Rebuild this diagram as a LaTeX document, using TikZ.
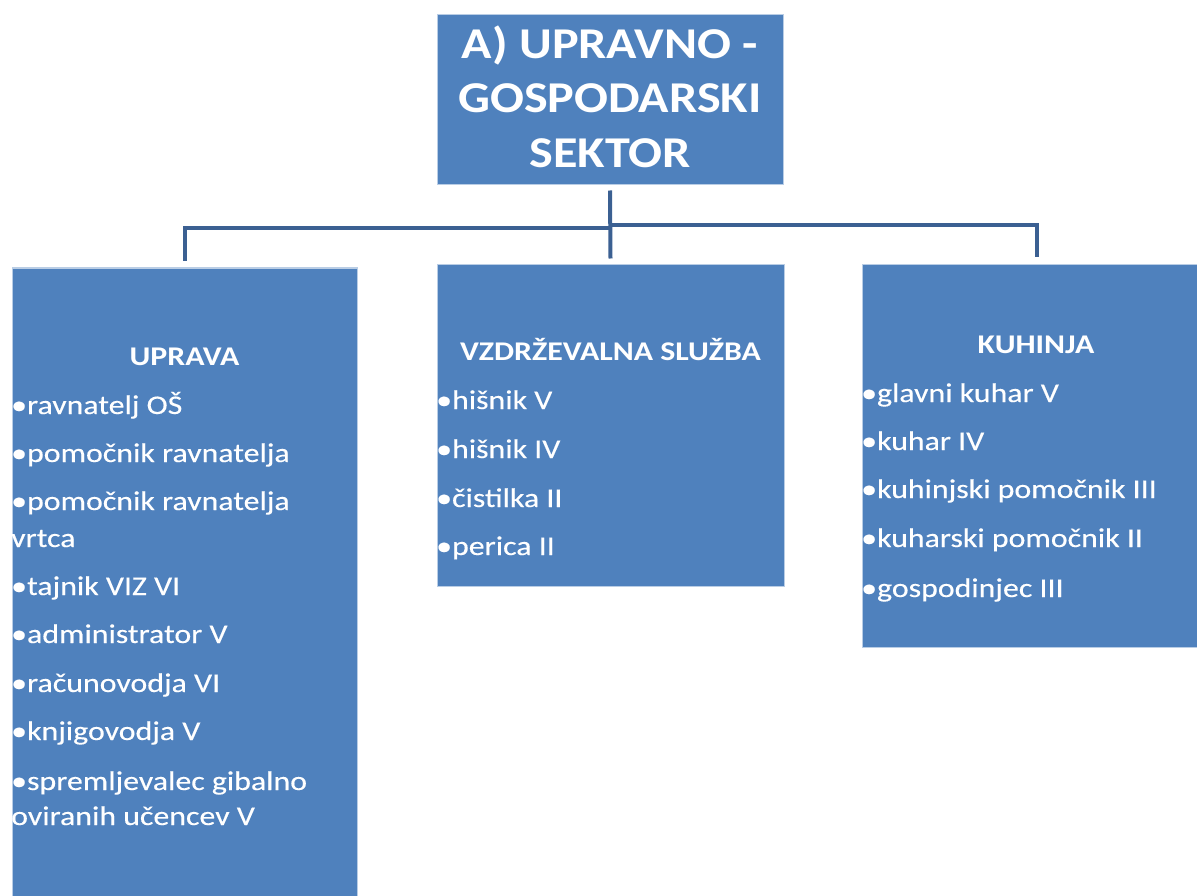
\documentclass[tikz,border=0pt]{standalone}
\usepackage{fontspec}
\setmainfont{Carlito}[FakeStretch=1.14]
\newfontfamily\bodyfont{Carlito}[FakeStretch=1.18,FakeBold=0.3]
\newfontfamily\headfont{Carlito Bold}[FakeStretch=1.18]
\definecolor{boxblue}{RGB}{79,129,189}
\definecolor{boxedge}{RGB}{185,205,229}
\definecolor{linkblue}{RGB}{59,96,146}
\begin{document}
\begin{tikzpicture}[x=1pt,y=-1pt,
  box/.style={draw=boxedge, line width=1pt, fill=boxblue, rectangle, inner sep=0pt},
  conn/.style={draw=linkblue, line width=4pt},
  item/.style={anchor=base west, text=white, font=\bodyfont\fontsize{27}{33}\selectfont, inner sep=0pt},
  head/.style={anchor=base, text=white, font=\headfont\fontsize{27}{33}\selectfont, inner sep=0pt},
  ttl/.style={anchor=base, text=white, font=\fontsize{44}{52}\selectfont\bfseries, inner sep=0pt}]
\useasboundingbox (0,0) rectangle (1197,896);
\clip (0,0) rectangle (1197,896);
% boxes
\node[box, minimum width=346pt, minimum height=170pt] (top) at (610,100) {};
\node[box, minimum width=345pt, minimum height=638pt] (left) at (184.5,587) {};
\node[box, minimum width=347pt, minimum height=321pt] (mid) at (610.5,425.5) {};
\node[box, minimum width=350pt, minimum height=382pt] (right) at (1037,456) {};
% connectors
\draw[conn] ([yshift=-5pt]top.south) -- ([yshift=6pt]mid.north);
\draw[conn] (top.south |- 0,228.5) -| ([yshift=6pt]left.north);
\draw[conn] (top.south |- 0,225) -| ([yshift=7pt]right.north);
% title
\node[ttl] (tt1) at (610,59) {A) UPRAVNO -};
\node[ttl] (tt2) at (610,113) {GOSPODARSKI};
\node[ttl] (tt3) at (610,168) {SEKTOR};
% left
\node[head] (h1) at (184.5,365) {UPRAVA};
\node[item] (l1) at (11,414) {•ravnatelj OŠ};
\node[item] (l2) at (11,462) {•pomočnik ravnatelja};
\node[item] (l3) at (11,510) {•pomočnik ravnatelja};
\node[item] (l3b) at (11,547) {vrtca};
\node[item] (l4) at (11,595) {•tajnik VIZ VI};
\node[item] (l5) at (11,643) {•administrator V};
\node[item] (l6) at (11,692) {•računovodja VI};
\node[item] (l7) at (11,740) {•knjigovodja V};
\node[item] (l8) at (11,790) {•spremljevalec gibalno};
\node[item] (l8b) at (11,825) {oviranih učencev V};
% middle
\node[head] (h2) at (610.5,360) {VZDRŽEVALNA SLUŽBA};
\node[item] (m1) at (436,409) {•hišnik V};
\node[item] (m2) at (436,458) {•hišnik IV};
\node[item] (m3) at (436,507) {•čistilka II};
\node[item] (m4) at (436,555) {•perica II};
% right
\node[head] (h3) at (1036,353) {KUHINJA};
\node[item] (r1) at (861,402) {•glavni kuhar V};
\node[item] (r2) at (861,450) {•kuhar IV};
\node[item] (r3) at (861,498) {•kuhinjski pomočnik III};
\node[item] (r4) at (861,547) {•kuharski pomočnik II};
\node[item] (r5) at (861,597) {•gospodinjec III};
\end{tikzpicture}
\end{document}
